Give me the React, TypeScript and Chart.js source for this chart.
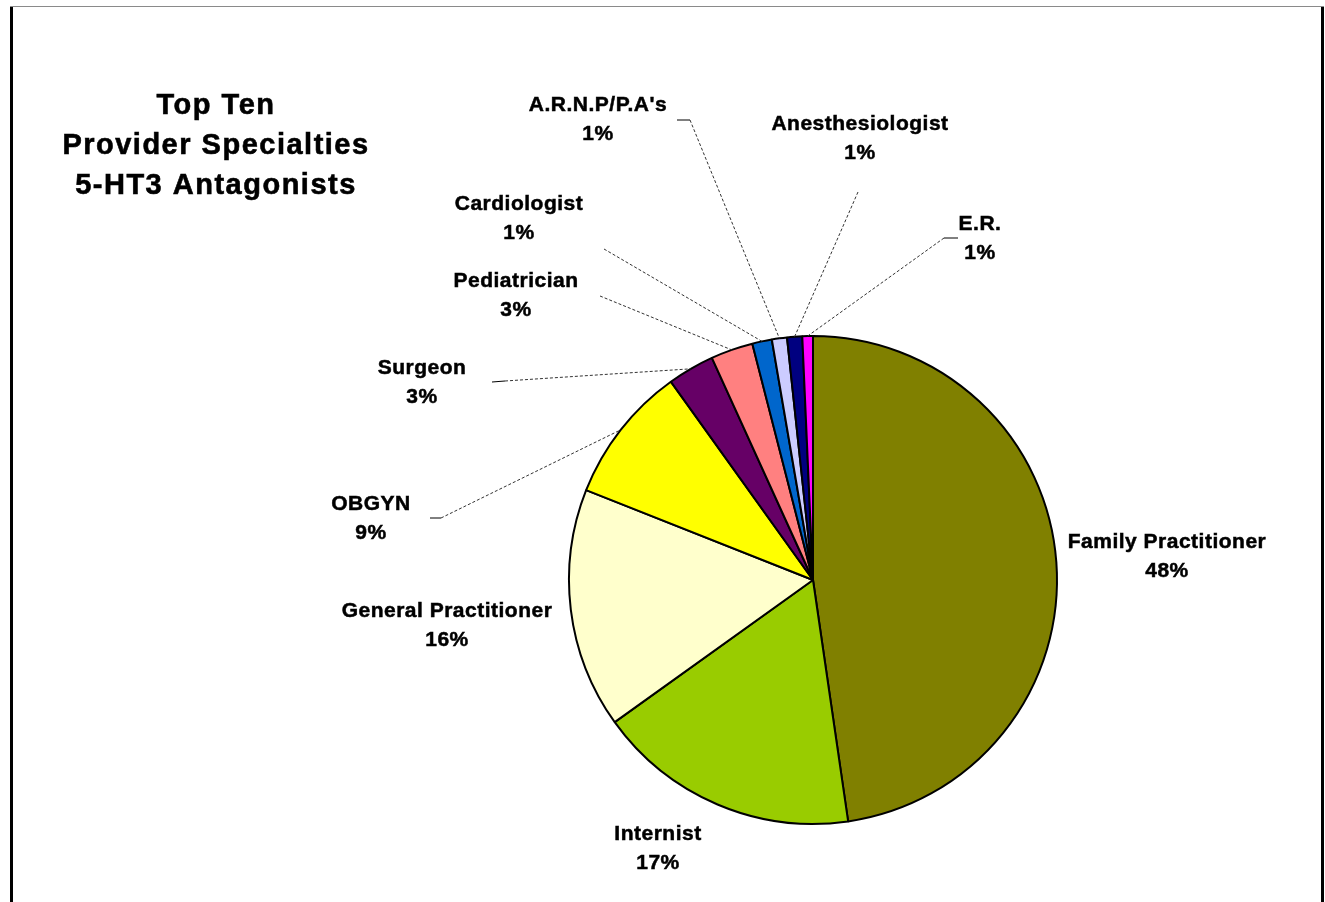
import React, { useEffect, useRef } from "react";
import { Chart, registerables } from "chart.js";

Chart.register(...registerables);

// Share of 5-HT3 antagonist prescriptions by provider specialty (percent)
const specialties = [
  "Family Practitioner",
  "Internist",
  "General Practitioner",
  "OBGYN",
  "Surgeon",
  "Pediatrician",
  "Cardiologist",
  "A.R.N.P/P.A's",
  "Anesthesiologist",
  "E.R.",
];
const shares = [47.7, 17.4, 15.9, 9.1, 3.1, 2.8, 1.3, 1.0, 1.0, 0.7];
const sliceColors = [
  "#808000",
  "#99CC00",
  "#FFFFCC",
  "#FFFF00",
  "#660066",
  "#FF8080",
  "#0066CC",
  "#CCCCFF",
  "#000080",
  "#FF00FF",
];
const titleLines = ["Top Ten", "Provider Specialties", "5-HT3 Antagonists"];

// Label placement: text centre x, first-line baseline y, and the leader-line
// points running from the label towards its slice (the slice end is added at draw time).
type Placement = { x: number; y: number; leader: number[][] | null };
const labelPlacement: Placement[] = [
  { x: 1167, y: 548, leader: null },
  { x: 658, y: 840, leader: null },
  { x: 447, y: 617, leader: null },
  { x: 371, y: 510, leader: [[430, 518], [441, 518]] },
  { x: 422, y: 374, leader: [[492, 382], [505, 381]] },
  { x: 516, y: 287, leader: [[600, 296]] },
  { x: 519, y: 210, leader: [[604, 249]] },
  { x: 598, y: 111, leader: [[677, 120], [690, 120]] },
  { x: 860, y: 130, leader: [[858, 192]] },
  { x: 980, y: 230, leader: [[958, 238], [944, 238]] },
];

const FONT = '"Liberation Sans", Arial, Helvetica, sans-serif';

function heavyText(ctx: CanvasRenderingContext2D, text: string, x: number, y: number) {
  ctx.fillText(text, x, y);
  ctx.strokeText(text, x, y);
}

const decorPlugin = {
  id: "decor",
  beforeDraw(chart: any) {
    const { ctx, width, height } = chart;
    ctx.save();
    ctx.fillStyle = "#ffffff";
    ctx.fillRect(0, 0, width, height);
    ctx.restore();
  },
  afterDraw(chart: any) {
    const { ctx, height } = chart;
    ctx.save();

    // outer frame
    ctx.fillStyle = "#8a8a8a";
    ctx.fillRect(10, 6, 1314, 1);
    ctx.fillStyle = "#000000";
    ctx.fillRect(10, 7, 3, height - 7);
    ctx.fillRect(1321, 7, 3, height - 7);

    // title
    ctx.fillStyle = "#000";
    ctx.strokeStyle = "#000";
    ctx.lineWidth = 0.6;
    ctx.textAlign = "center";
    ctx.textBaseline = "alphabetic";
    ctx.font = `bold 29px ${FONT}`;
    (ctx as any).letterSpacing = "1.5px";
    titleLines.forEach((line, i) => {
      heavyText(ctx, line, 216, 114 + i * 40);
    });

    // leader lines
    const meta = chart.getDatasetMeta(0);
    (ctx as any).letterSpacing = "0px";
    meta.data.forEach((arc: any, i: number) => {
      const p = labelPlacement[i];
      if (!p.leader) return;
      const { x, y, startAngle, endAngle, outerRadius } = arc.getProps(
        ["x", "y", "startAngle", "endAngle", "outerRadius"],
        true
      );
      const mid = (startAngle + endAngle) / 2;
      const ex = x + Math.cos(mid) * outerRadius;
      const ey = y + Math.sin(mid) * outerRadius;
      const pts = [...p.leader, [ex, ey]];
      // short solid tick next to the label
      ctx.strokeStyle = "#000";
      ctx.lineWidth = 1;
      ctx.setLineDash([]);
      if (p.leader.length > 1) {
        ctx.beginPath();
        ctx.moveTo(pts[0][0], pts[0][1]);
        ctx.lineTo(pts[1][0], pts[1][1]);
        ctx.stroke();
      }
      ctx.strokeStyle = "#333";
      ctx.setLineDash([3, 2]);
      ctx.beginPath();
      const s = pts[pts.length - 2];
      ctx.moveTo(s[0], s[1]);
      ctx.lineTo(ex, ey);
      ctx.stroke();
    });
    ctx.setLineDash([]);

    // data labels
    ctx.fillStyle = "#000";
    ctx.strokeStyle = "#000";
    ctx.lineWidth = 0.5;
    ctx.font = `bold 21px ${FONT}`;
    (ctx as any).letterSpacing = "0.5px";
    const values = chart.data.datasets[0].data as number[];
    values.forEach((v, i) => {
      const p = labelPlacement[i];
      heavyText(ctx, String(chart.data.labels[i]), p.x, p.y);
      heavyText(ctx, `${Math.round(v)}%`, p.x, p.y + 29);
    });

    ctx.restore();
  },
};

export default function App() {
  const canvasRef = useRef<HTMLCanvasElement | null>(null);

  useEffect(() => {
    if (!canvasRef.current) return;
    const chart = new Chart(canvasRef.current, {
      type: "pie",
      data: {
        labels: specialties,
        datasets: [
          {
            data: shares,
            backgroundColor: sliceColors,
            borderColor: "#000000",
            borderWidth: 2,
          },
        ],
      },
      options: {
        responsive: false,
        animation: false,
        events: [],
        layout: { padding: { left: 568, right: 267, top: 335, bottom: 77 } },
        plugins: {
          legend: { display: false },
          tooltip: { enabled: false },
        },
      },
      plugins: [decorPlugin],
    });
    return () => chart.destroy();
  }, []);

  return (
    <div style={{ position: "absolute", left: 0, top: 0, width: 1325, height: 902 }}>
      <canvas ref={canvasRef} width={1325} height={902} style={{ display: "block" }} />
    </div>
  );
}
